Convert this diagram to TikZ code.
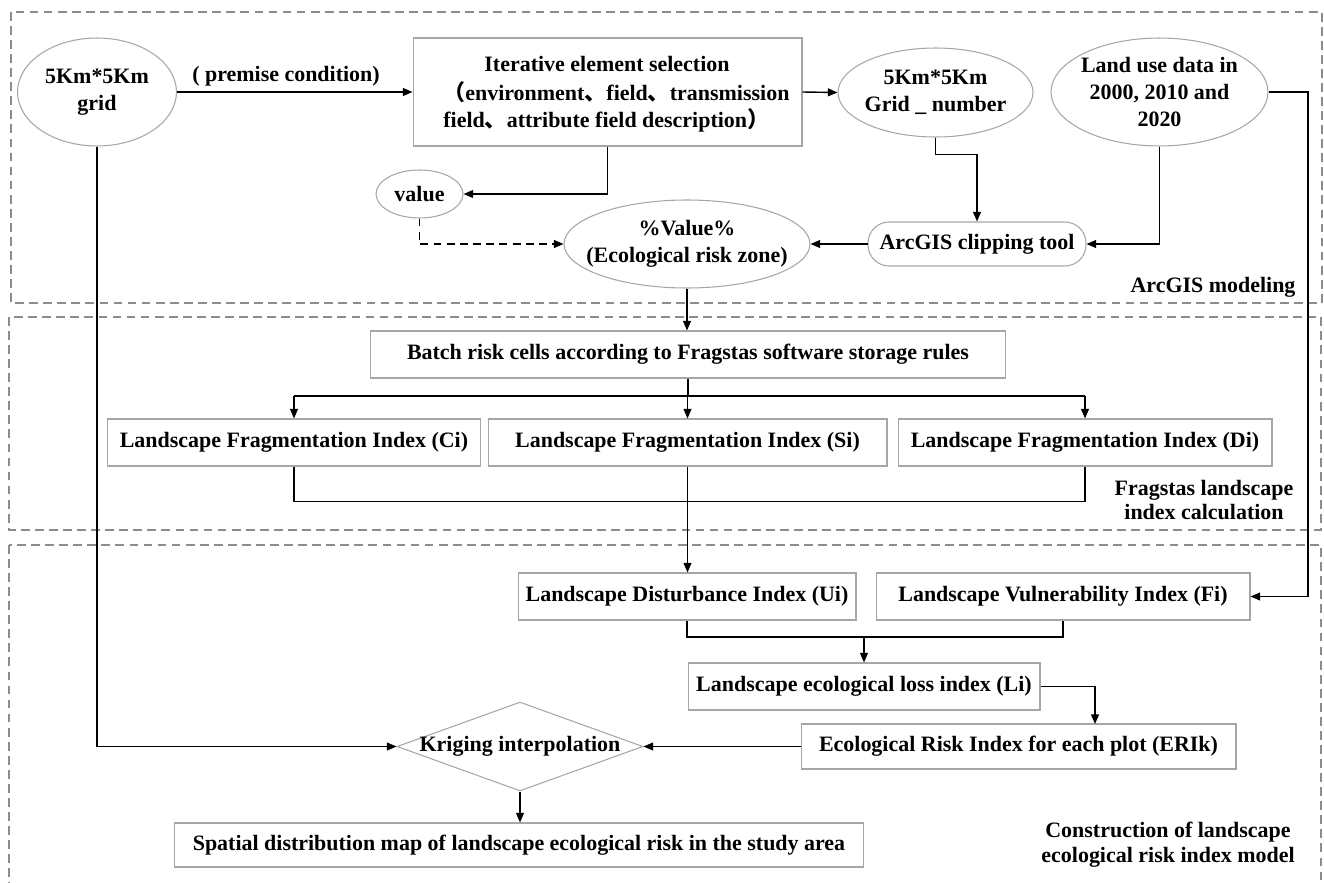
\documentclass[tikz,border=0pt]{standalone}
\usepackage{fontspec}
\setmainfont{Liberation Serif}
\newfontfamily\cjk{Noto Sans CJK SC}
\usetikzlibrary{shapes.geometric,arrows.meta,calc}
\begin{document}
\begin{tikzpicture}[x=0.02cm,y=-0.02cm,
  font=\fontsize{12.5}{15.4}\selectfont\bfseries,
  box/.style={draw=black!35,line width=0.6pt,inner sep=0pt,fill=white},
  ell/.style={ellipse,draw=black!35,line width=0.6pt,inner sep=0pt,fill=white},
  txt/.style={inner sep=0pt,align=center},
  conn/.style={line width=0.8pt,-{Triangle[length=5.5pt,width=4.5pt]}},
  plain/.style={line width=0.8pt},
  frame/.style={draw=black!45,line width=0.9pt,dash pattern=on 5pt off 3pt},
]
\useasboundingbox (0,0) rectangle (1324,882);
\clip (0,0) rectangle (1324,882);
% section frames
\draw[frame] (11,12) rectangle (1322,303);
\draw[frame] (9,317) rectangle (1321,530);
\draw[frame] (9,545) rectangle (1321,900);

% nodes: top section
\node[ell,minimum width=3.18cm,minimum height=2.16cm] (grid) at (97,92) {};
\node[txt] (gridt) at (grid.center) {5Km*5Km\\grid};
\node[box,minimum width=7.78cm,minimum height=2.16cm] (iter) at (607.5,92) {};
\node[txt] (itert1) at (607,64) {Iterative element selection};
\node[txt,anchor=west] (itert2) at (443,92) {{\cjk （}environment{\cjk 、}field{\cjk 、}transmission};
\node[txt,anchor=west] (itert3) at (443,120) {field{\cjk 、}attribute field description{\cjk ）}};
\node[ell,minimum width=3.9cm,minimum height=1.78cm] (gnum) at (935.5,92.5) {};
\node[txt] (gnumt) at (gnum.center) {5Km*5Km\\Grid \_ number};
\node[ell,minimum width=4.34cm,minimum height=2.16cm] (land) at (1159.5,92) {};
\node[txt,font=\fontsize{12.5}{15.1}\selectfont\bfseries] (landt) at (land.center) {Land use data in\\2000, 2010 and\\2020};
\node[ell,minimum width=1.74cm,minimum height=0.96cm] (value) at (419.5,194) {};
\node[txt] (valuet) at (value.center) {value};
\node[ell,minimum width=4.92cm,minimum height=1.76cm] (pv) at (687,244) {};
\node[txt] (pvt) at (pv.center) {\%Value\%\\(Ecological risk zone)};
\node[box,rounded corners=12pt,minimum width=4.36cm,minimum height=0.88cm] (clip) at (977,244) {};
\node[txt] (clipt) at (clip.center) {ArcGIS clipping tool};
\node[txt] (premise) at (286,76) {( premise condition)};
\node[txt] (lab1) at (1213,287) {ArcGIS modeling};

% middle section
\node[box,minimum width=12.72cm,minimum height=0.94cm] (batch) at (688,354.5) {Batch risk cells according to Fragstas software storage rules};
\node[box,minimum width=7.48cm,minimum height=0.94cm] (ci) at (294,442.5) {Landscape Fragmentation Index (Ci)};
\node[box,minimum width=7.98cm,minimum height=0.94cm] (si) at (687.5,442.5) {Landscape Fragmentation Index (Si)};
\node[box,minimum width=7.48cm,minimum height=0.94cm] (di) at (1085,442.5) {Landscape Fragmentation Index (Di)};
\node[txt,font=\fontsize{12.5}{13.8}\selectfont\bfseries] (lab2) at (1204,500) {Fragstas landscape\\index calculation};

% bottom section
\node[box,minimum width=6.76cm,minimum height=0.94cm] (ui) at (687,596.5) {Landscape Disturbance Index (Ui)};
\node[box,minimum width=7.48cm,minimum height=0.94cm] (fi) at (1063,596.5) {Landscape Vulnerability Index (Fi)};
\node[box,minimum width=7.04cm,minimum height=0.94cm] (li) at (864,686.5) {Landscape ecological loss index (Li)};
\node[box,minimum width=8.7cm,minimum height=0.9cm] (erik) at (1018.5,746.5) {Ecological Risk Index for each plot (ERIk)};
\node[diamond,draw=black!35,line width=0.6pt,inner sep=0pt,minimum width=4.92cm,minimum height=1.78cm,fill=white] (krig) at (520,746.5) {};
\node[txt] (krigt) at (krig.center) {Kriging interpolation};
\node[box,minimum width=13.8cm,minimum height=0.88cm] (spat) at (519,845) {Spatial distribution map of landscape ecological risk in the study area};
\node[txt,font=\fontsize{12.5}{14.2}\selectfont\bfseries] (lab3) at (1168,845) {Construction of landscape\\ecological risk index model};

% coordinates
\coordinate (lr) at (1308,92);
\coordinate (br) at (688,396);
\coordinate (uj) at (687,637);
\coordinate (ekin) at (1095,724);

% connectors top
\draw[conn] (grid.east) -- (iter.west);
\draw[conn] (iter.east) -- (gnum.west);
\draw[conn] (iter.south) |- (value.east);
\draw[conn,dash pattern=on 4.5pt off 3pt] (value.south) |- (pv.west);
\draw[conn] (gnum.south) -- ++(0,17) -| (clip.north);
\draw[conn] (land.south) |- (clip.east);
\draw[conn] (clip.west) -- (pv.east);
\draw[conn] (land.east) -- (lr) |- (fi.east);
\draw[conn] (pv.south) -- (pv.south |- batch.north);
% middle
\draw[plain] (batch.south) -- (br);
\draw[plain] (ci.north |- br) -- (di.north |- br);
\draw[conn] (ci.north |- br) -- (ci.north);
\draw[conn] (si.north |- br) -- (si.north);
\draw[conn] (di.north |- br) -- (di.north);
\draw[plain] (ci.south) -- ++(0,35) -| (di.south);
\draw[conn] (si.south) -- (si.south |- ui.north);
% bottom
\draw[plain] (ui.south) -- (uj) -| (fi.south);
\draw[conn] (li.north |- uj) -- (li.north);
\draw[conn] (li.east) -| (ekin);
\draw[conn] (erik.west) -- (krig.east);
\draw[conn] (grid.south) |- (krig.west);
\draw[conn] (krig.south) -- (krig.south |- spat.north);
\end{tikzpicture}
\end{document}
